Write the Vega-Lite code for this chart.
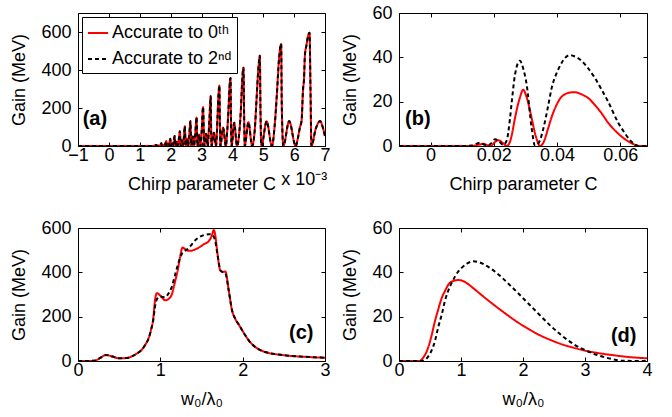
{
  "$schema": "https://vega.github.io/schema/vega-lite/v6.json",
  "background": "white",
  "padding": {"left": 10, "top": 3, "right": 5, "bottom": 5},
  "bounds": "flush",
  "columns": 2,
  "spacing": {"row": 82, "column": 74},
  "config": {
    "font": "Liberation Sans",
    "view": {"stroke": "black", "strokeWidth": 1},
    "axis": {
      "grid": false, "domain": false, "tickSize": -4, "tickColor": "black", "tickWidth": 1,
      "labelFont": "Liberation Sans", "labelFontSize": 18, "labelColor": "black",
      "titleFont": "Liberation Sans", "titleFontSize": 18, "titleFontWeight": "normal", "titleColor": "black",
      "labelFlush": false, "labelOverlap": false, "labelPadding": 4, "titlePadding": 11
    },
    "axisY": {"labelPadding": 11, "titlePadding": 12},
    "legend": {
      "orient": "top-left", "offset": 4, "padding": 5, "strokeColor": "black", "fillColor": "white",
      "symbolType": "stroke", "symbolSize": 400, "symbolStrokeWidth": 2, "labelFontSize": 18,
      "labelFont": "Liberation Sans, DejaVu Sans Condensed", "labelColor": "black", "rowPadding": 6, "labelOffset": 3
    }
  },
  "resolve": {
    "scale": {"x": "independent", "y": "independent", "color": "independent", "strokeDash": "independent"},
    "legend": {"color": "independent", "strokeDash": "independent"}
  },
  "datasets": {
    "a": [
      {"x": -1, "g0": 0, "g2": 0}, {"x": 0, "g0": 0, "g2": 0}, {"x": 1, "g0": 0, "g2": 0}, {"x": 1.3, "g0": 0, "g2": 0},
      {"x": 1.45, "g0": 1, "g2": 1}, {"x": 1.54, "g0": 5, "g2": 5}, {"x": 1.564, "g0": 0, "g2": 0}, {"x": 1.604, "g0": 2, "g2": 2},
      {"x": 1.636, "g0": 0, "g2": 0}, {"x": 1.668, "g0": 6, "g2": 6}, {"x": 1.70, "g0": 14, "g2": 14}, {"x": 1.724, "g0": 0, "g2": 0},
      {"x": 1.764, "g0": 5, "g2": 5}, {"x": 1.796, "g0": 0, "g2": 0}, {"x": 1.828, "g0": 12, "g2": 12}, {"x": 1.86, "g0": 26, "g2": 26},
      {"x": 1.88, "g0": 0, "g2": 0}, {"x": 1.91, "g0": 10, "g2": 10}, {"x": 1.94, "g0": 0, "g2": 0}, {"x": 1.96, "g0": 17, "g2": 17},
      {"x": 1.99, "g0": 38, "g2": 38}, {"x": 2.01, "g0": 0, "g2": 0}, {"x": 2.05, "g0": 15, "g2": 15}, {"x": 2.07, "g0": 0, "g2": 0},
      {"x": 2.10, "g0": 23, "g2": 23}, {"x": 2.13, "g0": 52, "g2": 52}, {"x": 2.155, "g0": 0, "g2": 0}, {"x": 2.20, "g0": 22, "g2": 22},
      {"x": 2.23, "g0": 0, "g2": 0}, {"x": 2.265, "g0": 35, "g2": 35}, {"x": 2.30, "g0": 78, "g2": 78}, {"x": 2.325, "g0": 0, "g2": 0},
      {"x": 2.365, "g0": 30, "g2": 30}, {"x": 2.395, "g0": 0, "g2": 0}, {"x": 2.43, "g0": 47, "g2": 47}, {"x": 2.46, "g0": 104, "g2": 104},
      {"x": 2.487, "g0": 0, "g2": 0}, {"x": 2.53, "g0": 40, "g2": 40}, {"x": 2.568, "g0": 0, "g2": 0}, {"x": 2.604, "g0": 58, "g2": 58},
      {"x": 2.64, "g0": 130, "g2": 130}, {"x": 2.67, "g0": 0, "g2": 0}, {"x": 2.72, "g0": 50, "g2": 50}, {"x": 2.76, "g0": 0, "g2": 0},
      {"x": 2.80, "g0": 68, "g2": 68}, {"x": 2.84, "g0": 150, "g2": 150}, {"x": 2.87, "g0": 0, "g2": 0}, {"x": 2.925, "g0": 60, "g2": 60},
      {"x": 2.965, "g0": 0, "g2": 0}, {"x": 3.01, "g0": 92, "g2": 92}, {"x": 3.05, "g0": 205, "g2": 205}, {"x": 3.09, "g0": 0, "g2": 0},
      {"x": 3.15, "g0": 65, "g2": 65}, {"x": 3.20, "g0": 0, "g2": 0}, {"x": 3.25, "g0": 118, "g2": 118}, {"x": 3.30, "g0": 262, "g2": 262},
      {"x": 3.31, "g0": 105, "g2": 105}, {"x": 3.325, "g0": 0, "g2": 0}, {"x": 3.40, "g0": 70, "g2": 70}, {"x": 3.47, "g0": 0, "g2": 0},
      {"x": 3.52, "g0": 159, "g2": 159}, {"x": 3.55, "g0": 270, "g2": 270}, {"x": 3.58, "g0": 318, "g2": 318}, {"x": 3.595, "g0": 127, "g2": 127},
      {"x": 3.61, "g0": 0, "g2": 0}, {"x": 3.70, "g0": 96, "g2": 96}, {"x": 3.79, "g0": 0, "g2": 0}, {"x": 3.83, "g0": 72, "g2": 72},
      {"x": 3.87, "g0": 179, "g2": 179}, {"x": 3.905, "g0": 304, "g2": 304}, {"x": 3.94, "g0": 358, "g2": 358}, {"x": 3.955, "g0": 143, "g2": 143},
      {"x": 3.975, "g0": 0, "g2": 0}, {"x": 4.06, "g0": 122, "g2": 122}, {"x": 4.15, "g0": 0, "g2": 0}, {"x": 4.23, "g0": 82, "g2": 82},
      {"x": 4.28, "g0": 206, "g2": 206}, {"x": 4.32, "g0": 350, "g2": 350}, {"x": 4.36, "g0": 412, "g2": 412}, {"x": 4.38, "g0": 165, "g2": 165},
      {"x": 4.40, "g0": 0, "g2": 0}, {"x": 4.52, "g0": 125, "g2": 125}, {"x": 4.64, "g0": 0, "g2": 0}, {"x": 4.73, "g0": 95, "g2": 95},
      {"x": 4.78, "g0": 238, "g2": 238}, {"x": 4.84, "g0": 404, "g2": 404}, {"x": 4.89, "g0": 475, "g2": 475}, {"x": 4.91, "g0": 190, "g2": 190},
      {"x": 4.94, "g0": 0, "g2": 0}, {"x": 5.11, "g0": 130, "g2": 130}, {"x": 5.28, "g0": 0, "g2": 0}, {"x": 5.37, "g0": 107, "g2": 107},
      {"x": 5.44, "g0": 269, "g2": 269}, {"x": 5.51, "g0": 456, "g2": 456}, {"x": 5.58, "g0": 537, "g2": 537}, {"x": 5.60, "g0": 215, "g2": 215},
      {"x": 5.65, "g0": 0, "g2": 0}, {"x": 5.84, "g0": 131, "g2": 131}, {"x": 6.05, "g0": 0, "g2": 0}, {"x": 6.12, "g0": 40, "g2": 40},
      {"x": 6.19, "g0": 100, "g2": 100}, {"x": 6.24, "g0": 131, "g2": 131}, {"x": 6.29, "g0": 300, "g2": 300}, {"x": 6.32, "g0": 352, "g2": 352},
      {"x": 6.35, "g0": 480, "g2": 480}, {"x": 6.40, "g0": 530, "g2": 530}, {"x": 6.44, "g0": 570, "g2": 570}, {"x": 6.50, "g0": 596, "g2": 596},
      {"x": 6.53, "g0": 300, "g2": 300}, {"x": 6.56, "g0": 0, "g2": 0}, {"x": 6.70, "g0": 90, "g2": 90}, {"x": 6.84, "g0": 131, "g2": 131},
      {"x": 6.95, "g0": 85, "g2": 85}, {"x": 7.0, "g0": 52, "g2": 52}
    ],
    "b": [
      {"x": -0.01, "g0": 0, "g2": 0}, {"x": 0, "g0": 0, "g2": 0}, {"x": 0.010, "g0": 0, "g2": 0}, {"x": 0.013, "g0": 0, "g2": 0.2},
      {"x": 0.0156, "g0": 0.7, "g2": 1.5}, {"x": 0.0167, "g0": 1.0, "g2": 0.8}, {"x": 0.018, "g0": 0.4, "g2": 0.2}, {"x": 0.019, "g0": 0, "g2": 1.0},
      {"x": 0.0204, "g0": 1.8, "g2": 3.0}, {"x": 0.0214, "g0": 2.6, "g2": 2.5}, {"x": 0.023, "g0": 1.2, "g2": 0.5}, {"x": 0.0241, "g0": 0, "g2": 2.5},
      {"x": 0.0251, "g0": 1.8, "g2": 12}, {"x": 0.0257, "g0": 5, "g2": 20}, {"x": 0.0267, "g0": 12.5, "g2": 32}, {"x": 0.0283, "g0": 22, "g2": 38.5},
      {"x": 0.0293, "g0": 25.4, "g2": 35}, {"x": 0.0304, "g0": 22, "g2": 27.8}, {"x": 0.032, "g0": 12.5, "g2": 8}, {"x": 0.033, "g0": 6, "g2": 0.3},
      {"x": 0.0336, "g0": 3, "g2": 0.5}, {"x": 0.0346, "g0": 0, "g2": 2.5}, {"x": 0.0357, "g0": 1.5, "g2": 7.9}, {"x": 0.0372, "g0": 7.9, "g2": 18},
      {"x": 0.0383, "g0": 13, "g2": 26}, {"x": 0.0404, "g0": 20, "g2": 34.5}, {"x": 0.0415, "g0": 22.3, "g2": 37.6}, {"x": 0.0441, "g0": 24.1, "g2": 41},
      {"x": 0.0455, "g0": 24.3, "g2": 40.5}, {"x": 0.0478, "g0": 23.3, "g2": 38.4}, {"x": 0.0499, "g0": 21.6, "g2": 35}, {"x": 0.052, "g0": 18.5, "g2": 30.7},
      {"x": 0.0541, "g0": 14.8, "g2": 25.5}, {"x": 0.0562, "g0": 10.5, "g2": 20}, {"x": 0.0594, "g0": 5.6, "g2": 10.5}, {"x": 0.0605, "g0": 4.2, "g2": 7.9},
      {"x": 0.0637, "g0": 1.2, "g2": 1.8}, {"x": 0.0647, "g0": 0.5, "g2": 0.6}, {"x": 0.066, "g0": 0, "g2": 0}, {"x": 0.0685, "g0": 0, "g2": 0}
    ],
    "c": [
      {"x": 0, "g0": 0, "g2": 0}, {"x": 0.1, "g0": 0, "g2": 0}, {"x": 0.21, "g0": 2, "g2": 2}, {"x": 0.27, "g0": 14, "g2": 14},
      {"x": 0.34, "g0": 27, "g2": 27}, {"x": 0.42, "g0": 20, "g2": 20}, {"x": 0.50, "g0": 12, "g2": 12}, {"x": 0.58, "g0": 13, "g2": 13},
      {"x": 0.66, "g0": 22, "g2": 22}, {"x": 0.72, "g0": 35, "g2": 35}, {"x": 0.78, "g0": 53, "g2": 53}, {"x": 0.82, "g0": 75, "g2": 75},
      {"x": 0.86, "g0": 105, "g2": 105}, {"x": 0.89, "g0": 145, "g2": 145}, {"x": 0.91, "g0": 181, "g2": 175}, {"x": 0.94, "g0": 286, "g2": 255},
      {"x": 0.96, "g0": 306, "g2": 280}, {"x": 1.00, "g0": 295, "g2": 290}, {"x": 1.06, "g0": 274, "g2": 288}, {"x": 1.10, "g0": 280, "g2": 305},
      {"x": 1.14, "g0": 301, "g2": 335}, {"x": 1.18, "g0": 360, "g2": 390}, {"x": 1.21, "g0": 407, "g2": 430}, {"x": 1.24, "g0": 470, "g2": 465},
      {"x": 1.27, "g0": 512, "g2": 490}, {"x": 1.30, "g0": 505, "g2": 498}, {"x": 1.33, "g0": 498, "g2": 505}, {"x": 1.37, "g0": 497, "g2": 520},
      {"x": 1.40, "g0": 500, "g2": 535}, {"x": 1.47, "g0": 512, "g2": 558}, {"x": 1.53, "g0": 527, "g2": 568}, {"x": 1.59, "g0": 542, "g2": 572},
      {"x": 1.62, "g0": 560, "g2": 572}, {"x": 1.65, "g0": 591, "g2": 560}, {"x": 1.67, "g0": 560, "g2": 535}, {"x": 1.69, "g0": 497, "g2": 490},
      {"x": 1.73, "g0": 407, "g2": 410}, {"x": 1.76, "g0": 402, "g2": 400}, {"x": 1.79, "g0": 404, "g2": 395}, {"x": 1.83, "g0": 320, "g2": 320},
      {"x": 1.87, "g0": 230, "g2": 230}, {"x": 1.91, "g0": 190, "g2": 190}, {"x": 1.95, "g0": 166, "g2": 166}, {"x": 2.0, "g0": 135, "g2": 135},
      {"x": 2.08, "g0": 90, "g2": 90}, {"x": 2.24, "g0": 45, "g2": 45}, {"x": 2.48, "g0": 27, "g2": 27}, {"x": 2.75, "g0": 19, "g2": 19},
      {"x": 3.0, "g0": 15, "g2": 15}
    ],
    "d": [
      {"x": 0, "g0": 0, "g2": 0}, {"x": 0.3, "g0": 0, "g2": 0}, {"x": 0.34, "g0": 0.1, "g2": 0}, {"x": 0.39, "g0": 1.5, "g2": 0.1},
      {"x": 0.47, "g0": 6, "g2": 2}, {"x": 0.53, "g0": 12, "g2": 5}, {"x": 0.58, "g0": 18, "g2": 9}, {"x": 0.63, "g0": 23, "g2": 15},
      {"x": 0.69, "g0": 28.5, "g2": 21}, {"x": 0.74, "g0": 31.5, "g2": 27}, {"x": 0.82, "g0": 35.3, "g2": 33.5}, {"x": 0.85, "g0": 35.8, "g2": 35.3},
      {"x": 0.96, "g0": 36.5, "g2": 40.5}, {"x": 1.01, "g0": 36.3, "g2": 42}, {"x": 1.1, "g0": 35, "g2": 44}, {"x": 1.2, "g0": 32.8, "g2": 45},
      {"x": 1.3, "g0": 30.5, "g2": 44.5}, {"x": 1.44, "g0": 27.3, "g2": 42.5}, {"x": 1.55, "g0": 24.9, "g2": 40.3}, {"x": 1.76, "g0": 20.5, "g2": 35},
      {"x": 1.87, "g0": 18.3, "g2": 32}, {"x": 2.09, "g0": 14.4, "g2": 25.8}, {"x": 2.19, "g0": 12.8, "g2": 23}, {"x": 2.46, "g0": 9.3, "g2": 15.5},
      {"x": 2.62, "g0": 7.6, "g2": 11.6}, {"x": 2.84, "g0": 5.8, "g2": 7.2}, {"x": 3.05, "g0": 4.4, "g2": 4.3}, {"x": 3.21, "g0": 3.6, "g2": 2.6},
      {"x": 3.43, "g0": 2.7, "g2": 0.9}, {"x": 3.54, "g0": 2.3, "g2": 0.3}, {"x": 3.6, "g0": 2.1, "g2": 0.1}, {"x": 4.0, "g0": 1.2, "g2": 0}
    ]
  },
  "concat": [
    {
      "width": 247, "height": 133,
      "data": {"name": "a"},
      "resolve": {"axis": {"x": "independent", "y": "independent"}},
      "layer": [
        {
          "transform": [{"fold": ["g0", "g2"], "as": ["s", "y"]}],
          "mark": {"type": "line", "interpolate": "monotone", "strokeWidth": 2, "clip": true},
          "encoding": {
            "x": {"field": "x", "type": "quantitative", "scale": {"domain": [-1, 7], "nice": false, "zero": false}, "axis": {"values": [-1, 0, 1, 2, 3, 4, 5, 6, 7], "title": "Chirp parameter C"}},
            "y": {"field": "y", "type": "quantitative", "scale": {"domain": [0, 700], "nice": false}, "axis": {"values": [0, 200, 400, 600], "title": "Gain (MeV)"}},
            "color": {"field": "s", "type": "nominal", "scale": {"domain": ["g0", "g2"], "range": ["#ff0000", "#000000"]}, "legend": {"title": null, "labelExpr": "datum.value == 'g0' ? 'Accurate to 0ᵗʰ' : 'Accurate to 2ⁿᵈ'"}},
            "strokeDash": {"field": "s", "type": "nominal", "scale": {"domain": ["g0", "g2"], "range": [[1, 0], [4, 3]]}, "legend": {"title": null, "labelExpr": "datum.value == 'g0' ? 'Accurate to 0ᵗʰ' : 'Accurate to 2ⁿᵈ'"}}
          }
        },
        {
          "mark": {"type": "point", "opacity": 0},
          "encoding": {
            "x": {"field": "x", "type": "quantitative", "scale": {"domain": [-1, 7], "nice": false, "zero": false}, "axis": {"orient": "top", "values": [-1, 0, 1, 2, 3, 4, 5, 6, 7], "labels": false, "title": null}},
            "y": {"field": "g0", "type": "quantitative", "scale": {"domain": [0, 700], "nice": false}, "axis": {"orient": "right", "values": [0, 200, 400, 600], "labels": false, "title": null}}
          }
        },
        {
          "data": {"values": [{}]},
          "mark": {"type": "text", "text": "(a)", "align": "left", "baseline": "middle", "fontSize": 20, "fontWeight": "bold", "font": "Liberation Sans"},
          "encoding": {
            "x": {"datum": -0.85, "type": "quantitative", "scale": {"domain": [-1, 7], "nice": false, "zero": false}, "axis": null},
            "y": {"datum": 141, "type": "quantitative", "scale": {"domain": [0, 700], "nice": false}, "axis": null}
          }
        },
        {
          "data": {"values": [{}]},
          "mark": {"type": "text", "text": "x 10⁻³", "align": "right", "baseline": "middle", "fontSize": 18, "font": "Liberation Sans"},
          "encoding": {
            "x": {"datum": 7.07, "type": "quantitative", "scale": {"domain": [-1, 7], "nice": false, "zero": false}, "axis": null},
            "y": {"datum": -180, "type": "quantitative", "scale": {"domain": [0, 700], "nice": false}, "axis": null}
          }
        }
      ]
    },
    {
      "width": 248, "height": 133,
      "data": {"name": "b"},
      "resolve": {"axis": {"x": "independent", "y": "independent"}},
      "layer": [
        {
          "transform": [{"fold": ["g0", "g2"], "as": ["s", "y"]}],
          "mark": {"type": "line", "interpolate": "monotone", "strokeWidth": 2, "clip": true},
          "encoding": {
            "x": {"field": "x", "type": "quantitative", "scale": {"domain": [-0.01, 0.0685], "nice": false, "zero": false}, "axis": {"values": [0, 0.02, 0.04, 0.06], "format": "~g", "title": "Chirp parameter C"}},
            "y": {"field": "y", "type": "quantitative", "scale": {"domain": [0, 60], "nice": false}, "axis": {"values": [0, 20, 40, 60], "title": "Gain (MeV)"}},
            "color": {"field": "s", "type": "nominal", "scale": {"domain": ["g0", "g2"], "range": ["#ff0000", "#000000"]}, "legend": null},
            "strokeDash": {"field": "s", "type": "nominal", "scale": {"domain": ["g0", "g2"], "range": [[1, 0], [4, 3]]}, "legend": null}
          }
        },
        {
          "mark": {"type": "point", "opacity": 0},
          "encoding": {
            "x": {"field": "x", "type": "quantitative", "scale": {"domain": [-0.01, 0.0685], "nice": false, "zero": false}, "axis": {"orient": "top", "values": [0, 0.02, 0.04, 0.06], "labels": false, "title": null}},
            "y": {"field": "g0", "type": "quantitative", "scale": {"domain": [0, 60], "nice": false}, "axis": {"orient": "right", "values": [0, 20, 40, 60], "labels": false, "title": null}}
          }
        },
        {
          "data": {"values": [{}]},
          "mark": {"type": "text", "text": "(b)", "align": "left", "baseline": "middle", "fontSize": 20, "fontWeight": "bold", "font": "Liberation Sans"},
          "encoding": {
            "x": {"datum": -0.0081, "type": "quantitative", "scale": {"domain": [-0.01, 0.0685], "nice": false, "zero": false}, "axis": null},
            "y": {"datum": 12.2, "type": "quantitative", "scale": {"domain": [0, 60], "nice": false}, "axis": null}
          }
        }
      ]
    },
    {
      "width": 247, "height": 133,
      "data": {"name": "c"},
      "resolve": {"axis": {"x": "independent", "y": "independent"}},
      "layer": [
        {
          "transform": [{"fold": ["g0", "g2"], "as": ["s", "y"]}],
          "mark": {"type": "line", "interpolate": "monotone", "strokeWidth": 2, "clip": true},
          "encoding": {
            "x": {"field": "x", "type": "quantitative", "scale": {"domain": [0, 3], "nice": false, "zero": false}, "axis": {"values": [0, 1, 2, 3], "title": "w₀/λ₀"}},
            "y": {"field": "y", "type": "quantitative", "scale": {"domain": [0, 600], "nice": false}, "axis": {"values": [0, 200, 400, 600], "title": "Gain (MeV)"}},
            "color": {"field": "s", "type": "nominal", "scale": {"domain": ["g0", "g2"], "range": ["#ff0000", "#000000"]}, "legend": null},
            "strokeDash": {"field": "s", "type": "nominal", "scale": {"domain": ["g0", "g2"], "range": [[1, 0], [4, 3]]}, "legend": null}
          }
        },
        {
          "mark": {"type": "point", "opacity": 0},
          "encoding": {
            "x": {"field": "x", "type": "quantitative", "scale": {"domain": [0, 3], "nice": false, "zero": false}, "axis": {"orient": "top", "values": [0, 1, 2, 3], "labels": false, "title": null}},
            "y": {"field": "g0", "type": "quantitative", "scale": {"domain": [0, 600], "nice": false}, "axis": {"orient": "right", "values": [0, 200, 400, 600], "labels": false, "title": null}}
          }
        },
        {
          "data": {"values": [{}]},
          "mark": {"type": "text", "text": "(c)", "align": "right", "baseline": "middle", "fontSize": 20, "fontWeight": "bold", "font": "Liberation Sans"},
          "encoding": {
            "x": {"datum": 2.86, "type": "quantitative", "scale": {"domain": [0, 3], "nice": false, "zero": false}, "axis": null},
            "y": {"datum": 127, "type": "quantitative", "scale": {"domain": [0, 600], "nice": false}, "axis": null}
          }
        }
      ]
    },
    {
      "width": 248, "height": 133,
      "data": {"name": "d"},
      "resolve": {"axis": {"x": "independent", "y": "independent"}},
      "layer": [
        {
          "transform": [{"fold": ["g0", "g2"], "as": ["s", "y"]}],
          "mark": {"type": "line", "interpolate": "monotone", "strokeWidth": 2, "clip": true},
          "encoding": {
            "x": {"field": "x", "type": "quantitative", "scale": {"domain": [0, 4], "nice": false, "zero": false}, "axis": {"values": [0, 1, 2, 3, 4], "title": "w₀/λ₀"}},
            "y": {"field": "y", "type": "quantitative", "scale": {"domain": [0, 60], "nice": false}, "axis": {"values": [0, 20, 40, 60], "title": "Gain (MeV)"}},
            "color": {"field": "s", "type": "nominal", "scale": {"domain": ["g0", "g2"], "range": ["#ff0000", "#000000"]}, "legend": null},
            "strokeDash": {"field": "s", "type": "nominal", "scale": {"domain": ["g0", "g2"], "range": [[1, 0], [4, 3]]}, "legend": null}
          }
        },
        {
          "mark": {"type": "point", "opacity": 0},
          "encoding": {
            "x": {"field": "x", "type": "quantitative", "scale": {"domain": [0, 4], "nice": false, "zero": false}, "axis": {"orient": "top", "values": [0, 1, 2, 3, 4], "labels": false, "title": null}},
            "y": {"field": "g0", "type": "quantitative", "scale": {"domain": [0, 60], "nice": false}, "axis": {"orient": "right", "values": [0, 20, 40, 60], "labels": false, "title": null}}
          }
        },
        {
          "data": {"values": [{}]},
          "mark": {"type": "text", "text": "(d)", "align": "right", "baseline": "middle", "fontSize": 20, "fontWeight": "bold", "font": "Liberation Sans"},
          "encoding": {
            "x": {"datum": 3.83, "type": "quantitative", "scale": {"domain": [0, 4], "nice": false, "zero": false}, "axis": null},
            "y": {"datum": 11.3, "type": "quantitative", "scale": {"domain": [0, 60], "nice": false}, "axis": null}
          }
        }
      ]
    }
  ]
}
